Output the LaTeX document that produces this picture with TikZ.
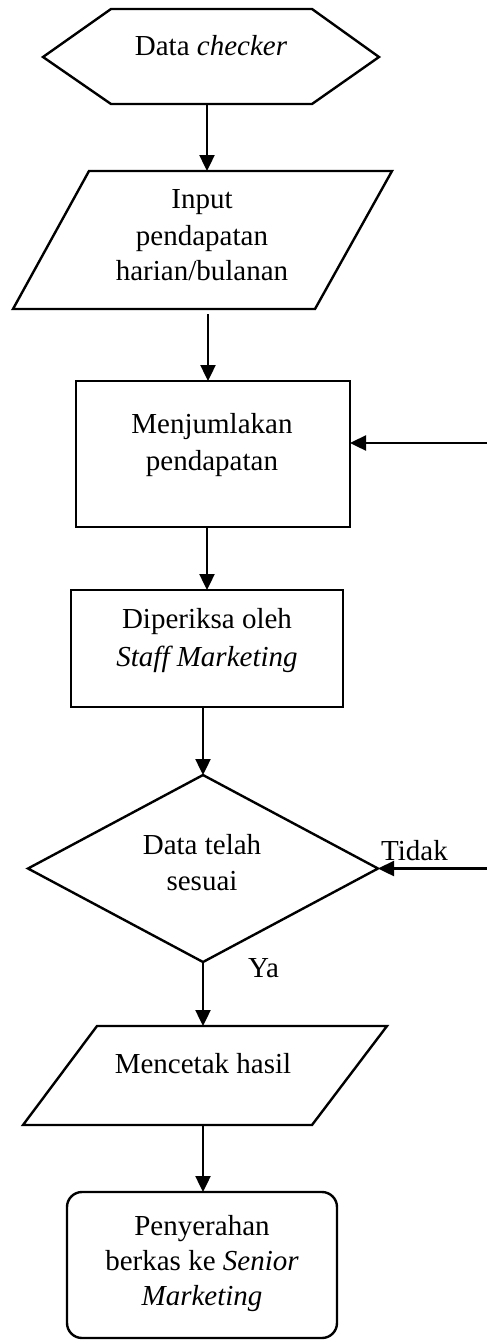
\documentclass[tikz,border=0pt]{standalone}
\usepackage{fontspec}
\setmainfont{Liberation Serif}
\usetikzlibrary{arrows.meta,shapes.geometric}
\begin{document}
\begin{tikzpicture}[x=1pt,y=-1pt,line width=2.4pt,
  hidden/.style={rectangle,inner sep=0pt,outer sep=0pt},
  shp/.style={draw,line join=miter},
  boxs/.style={draw,rectangle,inner sep=0pt,outer sep=0pt},
  dec/.style={draw,diamond,inner sep=0pt,outer sep=0pt},
  arr/.style={-{Triangle[length=16pt,width=15pt]}},
  txt/.style={inner sep=0pt,anchor=base,font=\fontsize{29pt}{35pt}\selectfont},
  lbl/.style={inner sep=0pt,anchor=base west,font=\fontsize{29pt}{35pt}\selectfont}]
\useasboundingbox (0,0) rectangle (487,1341);

% hexagon
\node[hidden,minimum width=336pt,minimum height=95pt] (hex) at (207,56.5) {};
\draw[shp] (43,57) -- (111,9) -- (312,9) -- (379,57) -- (312,104) -- (111,104) -- cycle;
\node[txt] (thex) at (211,55) {Data \textit{checker}};

% input parallelogram
\node[hidden,minimum width=379pt,minimum height=138pt] (in1) at (208,240) {};
\draw[shp] (89,171) -- (392,171) -- (315,309) -- (13,309) -- cycle;
\node[txt] (tin1) at (202,208) {Input};
\node[txt] (tin2) at (202,245) {pendapatan};
\node[txt] (tin3) at (202,280) {harian/bulanan};
\draw[arr] (hex.south) -- (hex.south |- in1.north);

% menjumlakan
\node[boxs,minimum width=274pt,minimum height=146pt] (jml) at (213,454) {};
\node[txt] (tjml1) at (212,433) {Menjumlakan};
\node[txt] (tjml2) at (212,470) {pendapatan};
\draw[arr] ([yshift=-5pt]in1.south) -- (in1.south |- jml.north);
\coordinate (r1) at (487,443);
\draw[arr] (r1) -- (r1 -| jml.east);

% diperiksa
\node[boxs,minimum width=272pt,minimum height=117pt] (chk) at (207,648.5) {};
\node[txt] (tchk1) at (207,628) {Diperiksa oleh};
\node[txt] (tchk2) at (207,666) {\textit{Staff Marketing}};
\draw[arr] (chk.north |- jml.south) -- (chk.north);

% decision
\node[dec,minimum width=350pt,minimum height=187pt] (dc) at (203,868.5) {};
\node[txt] (tdc1) at (202,854) {Data telah};
\node[txt] (tdc2) at (202,890) {sesuai};
\draw[arr] (chk.south -| dc.north) -- (dc.north);
\coordinate (r2) at (487,868.5);
\draw[arr] (r2) -- (dc.east);
\node[lbl] (ltidak) at (380,860) {Tidak};
\node[lbl] (lya) at (247,977) {Ya};

% output parallelogram
\node[hidden,minimum width=364pt,minimum height=99pt] (out1) at (203,1075.5) {};
\draw[shp] (97,1026) -- (387,1026) -- (312,1125) -- (23,1125) -- cycle;
\node[txt] (tout) at (203,1073) {Mencetak hasil};
\draw[arr] (dc.south) -- (dc.south |- out1.north);

% end
\node[boxs,rounded corners=15pt,minimum width=270pt,minimum height=146pt] (fin) at (202,1265) {};
\node[txt] (tfin1) at (202,1235) {Penyerahan};
\node[txt] (tfin2) at (202,1270) {berkas ke \textit{Senior}};
\node[txt] (tfin3) at (202,1305) {\textit{Marketing}};
\draw[arr] (out1.south) -- (out1.south |- fin.north);
\end{tikzpicture}
\end{document}
